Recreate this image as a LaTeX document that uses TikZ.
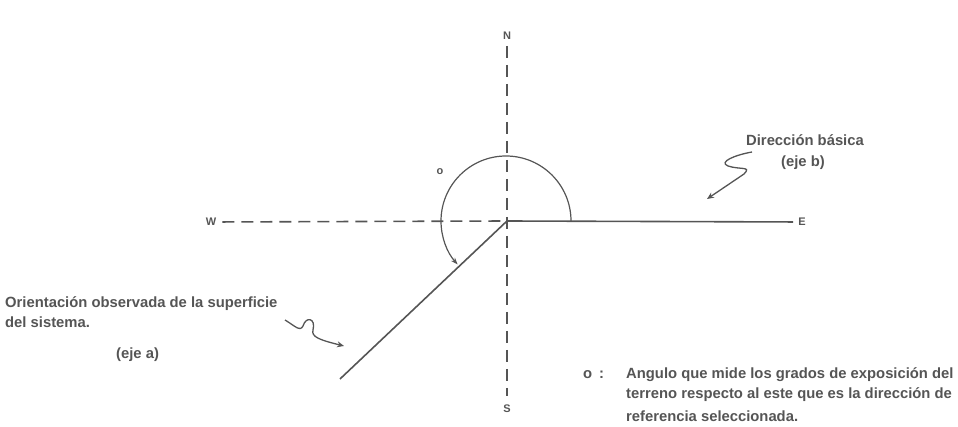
\documentclass[tikz,border=0pt]{standalone}
\usepackage{fontspec}
\setmainfont{Liberation Sans}
\usetikzlibrary{arrows.meta,positioning}
\definecolor{ink}{RGB}{85,85,85}
\tikzset{
  axis/.style={draw=ink,line width=1.6pt},
  dsh/.style={axis,dash pattern=on 12pt off 7pt},
  card/.style={font=\bfseries\fontsize{11}{11}\selectfont,text=ink,inner sep=1pt},
  lbl/.style={font=\bfseries\fontsize{14.8}{20.5}\selectfont,text=ink,align=left,inner sep=0pt},
  sq/.style={draw=ink,line width=1.3pt,-{Stealth[length=7pt,width=6pt]}},
  ang/.style={draw=ink,line width=1.2pt,-{Stealth[length=7pt,width=5pt]}}
}
\begin{document}
\begin{tikzpicture}[x=1pt,y=-1pt]
\clip (0,0) rectangle (958,427);
% axes
\coordinate (O) at (507,221);
\node[card] (N) at (507,36) {N};
\node[card] (S) at (507,409) {S};
\node[card] (W) at (211,222) {W};
\node[card] (E) at (802,222) {E};
\coordinate (A) at (340,379);
\draw[dsh,shorten <=5pt,shorten >=8pt] (N) -- (S);
\draw[dsh,shorten <=5pt] (W) -- (O);
\draw[axis,shorten >=4pt] (O) -- (E);
\draw[axis] (O) -- (A);
% angle
\draw[ang] (O) ++(64,0) arc[start angle=0,end angle=-222,radius=65];
\node[card] (th) at (440,172) {o};
% arrows to the axes
\draw[sq] (285,320) .. controls (295,326) and (300,332) .. (303,326)
  .. controls (306,316) and (316,318) .. (313,330)
  .. controls (311,337) and (320,340) .. (344,346);
\draw[sq] (752,152) .. controls (735,155) and (718,162) .. (728,166)
  .. controls (740,170) and (752,166) .. (744,174) -- (707,199);
% texts
\node[lbl,anchor=base west] (obs) at (5,327.5) {Orientación observada de la superficie\\del sistema.};
\node[lbl,anchor=base west] (ejea) at (116,359) {(eje a)};
\node[lbl,anchor=base] (dir) at (805,146) {Dirección básica};
\node[lbl,anchor=base] (ejeb) at (803,167) {(eje b)};
\node[lbl,anchor=base west] (sym) at (583,378) {o\hspace{7pt}:};
\node[lbl,anchor=base west] (leg) at (626,421) {Angulo que mide los grados de exposición del\\terreno respecto al este que es la dirección de\\[2pt]referencia seleccionada.};
\end{tikzpicture}
\end{document}
